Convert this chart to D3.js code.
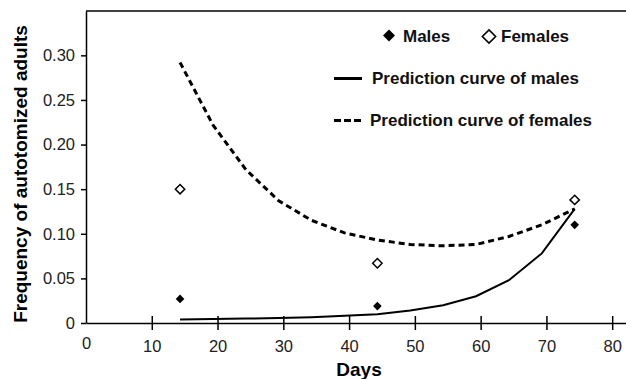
<!DOCTYPE html>
<html>
<head>
<meta charset="utf-8">
<script src="https://cdn.jsdelivr.net/npm/d3@7"></script>
<style>
  body { margin: 0; background: #fff; }
  svg { display: block; font-family: "Liberation Sans", Arial, sans-serif; }
</style>
</head>
<body>
<svg id="chart" width="626" height="379"></svg>
<script>
// observed frequencies
const sampleDays = [14.3, 44.3, 74.3];
const males = [0.027, 0.019, 0.110];
const females = [0.150, 0.067, 0.138];

// fitted prediction curves
const curveDays = [14.3, 19.3, 24.3, 29.3, 34.3, 39.3, 44.3, 49.3, 54.3, 59.3, 64.3, 69.3, 74.3];
const predMales = [0.004, 0.0045, 0.005, 0.0055, 0.0065, 0.008, 0.0097, 0.014, 0.020, 0.030, 0.048, 0.078, 0.128];
const predFemales = [0.292, 0.222, 0.172, 0.137, 0.115, 0.101, 0.093, 0.088, 0.0865, 0.088, 0.097, 0.110, 0.128];

const xTicks = [0, 10, 20, 30, 40, 50, 60, 70, 80];
const yTicks = [0, 0.05, 0.10, 0.15, 0.20, 0.25, 0.30];

const svg = d3.select('#chart');
const m = { left: 86, right: 0, top: 11, bottom: 56 };
const W = 626, H = 379;

const x = d3.scaleLinear().domain([0, 82.1]).range([m.left, W - m.right]);
const y = d3.scaleLinear().domain([0, 0.3497]).range([H - m.bottom, m.top]);

// top frame line
svg.append('line')
  .attr('x1', m.left).attr('x2', W).attr('y1', m.top).attr('y2', m.top)
  .attr('stroke', '#000').attr('stroke-width', 1.5);

// y axis
const yAxis = svg.append('g')
  .attr('transform', `translate(${m.left},0)`)
  .call(d3.axisLeft(y).tickValues(yTicks).tickSize(5).tickSizeOuter(0)
    .tickFormat(d => d === 0 ? '0' : d3.format('.2f')(d)));
yAxis.select('.domain').attr('stroke-width', 1.5);
yAxis.selectAll('.tick line').attr('stroke-width', 1.5);
yAxis.selectAll('text').attr('font-size', 16.5).attr('fill', '#222').attr('x', -11);

// x axis, ticks crossing the axis line
const xAxis = svg.append('g')
  .attr('transform', `translate(0,${y(0)})`)
  .call(d3.axisBottom(x).tickValues(xTicks).tickSize(0).tickSizeOuter(0));
xAxis.select('.domain').attr('stroke-width', 1.5);
xAxis.selectAll('.tick').filter(d => d !== 0).append('line')
  .attr('y1', -7).attr('y2', 7).attr('stroke', '#000').attr('stroke-width', 1.5);
xAxis.selectAll('text').attr('font-size', 16.5).attr('fill', '#222')
  .attr('y', d => d === 0 ? 14 : 17);

// axis titles
svg.append('text')
  .attr('x', 359).attr('y', 376)
  .attr('text-anchor', 'middle').attr('font-size', 19).attr('font-weight', 'bold')
  .text('Days');
svg.append('text')
  .attr('transform', 'translate(27,174) rotate(-90)')
  .attr('text-anchor', 'middle').attr('font-size', 19).attr('font-weight', 'bold')
  .text('Frequency of autotomized adults');

// prediction curves
const line = d3.line().x(d => x(d[0])).y(d => y(d[1]));
svg.append('path')
  .datum(d3.zip(curveDays, predFemales))
  .attr('d', line).attr('fill', 'none').attr('stroke', '#000')
  .attr('stroke-width', 3).attr('stroke-dasharray', '6 4');
svg.append('path')
  .datum(d3.zip(curveDays, predMales))
  .attr('d', line).attr('fill', 'none').attr('stroke', '#000')
  .attr('stroke-width', 2);

// observed points
const diamond = size => d3.symbol().type(d3.symbolDiamond2).size(size)();
svg.selectAll('.male').data(d3.zip(sampleDays, males)).join('path')
  .attr('class', 'male')
  .attr('transform', d => `translate(${x(d[0])},${y(d[1])})`)
  .attr('d', diamond(48)).attr('fill', '#000');
svg.selectAll('.female').data(d3.zip(sampleDays, females)).join('path')
  .attr('class', 'female')
  .attr('transform', d => `translate(${x(d[0])},${y(d[1])})`)
  .attr('d', diamond(56)).attr('fill', '#fff')
  .attr('stroke', '#000').attr('stroke-width', 1.5);

// legend
const lg = svg.append('g').attr('font-size', 17).attr('font-weight', 'bold').attr('fill', '#111');
lg.append('path').attr('transform', 'translate(389,35.5)')
  .attr('d', diamond(92)).attr('fill', '#000');
lg.append('text').attr('x', 403).attr('y', 42).text('Males');
lg.append('path').attr('transform', 'translate(489,36.5)')
  .attr('d', diamond(112)).attr('fill', '#fff').attr('stroke', '#000').attr('stroke-width', 1.6);
lg.append('text').attr('x', 501).attr('y', 42).text('Females');
lg.append('line').attr('x1', 334).attr('x2', 362).attr('y1', 78.5).attr('y2', 78.5)
  .attr('stroke', '#000').attr('stroke-width', 3);
lg.append('text').attr('x', 372).attr('y', 84).text('Prediction curve of males');
lg.append('line').attr('x1', 334).attr('x2', 361).attr('y1', 120.5).attr('y2', 120.5)
  .attr('stroke', '#000').attr('stroke-width', 3).attr('stroke-dasharray', '7 3');
lg.append('text').attr('x', 370).attr('y', 126).text('Prediction curve of females');
</script>
</body>
</html>
